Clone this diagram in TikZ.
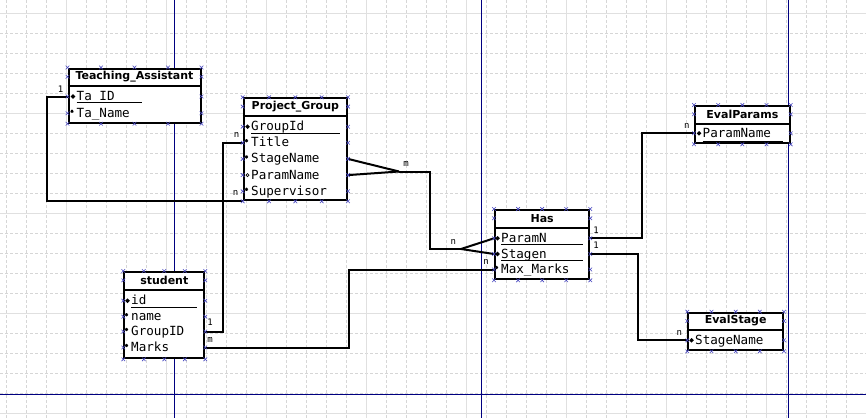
\documentclass[tikz,border=0pt]{standalone}
\usepackage{fontspec}
\setsansfont{DejaVu Sans}
\setmonofont{DejaVu Sans Mono}
\usetikzlibrary{calc}
\definecolor{gridsolid}{HTML}{E0E0E0}
\definecolor{griddash}{HTML}{D6D6D6}
\definecolor{pageblue}{HTML}{000080}
\definecolor{handleblue}{HTML}{4848C0}
\newcommand{\attrfont}{\ttfamily\fontsize{12.6}{14}\selectfont}
\newcommand{\titlefont}{\sffamily\bfseries\fontsize{11}{13}\selectfont}
\newcommand{\cardfont}{\ttfamily\fontsize{9}{10}\selectfont}
\tikzset{
  keymark/.pic={\fill (0,-2.3) -- (2.3,0) -- (0,2.3) -- (-2.3,0) -- cycle;},
  optmark/.pic={\draw[line width=0.6pt] (-1.6,0) -- (1.6,0) (0,-1.6) -- (0,1.6)
                (-1.1,-1.1) -- (1.1,1.1) (-1.1,1.1) -- (1.1,-1.1);},
  nullmark/.pic={\draw[line width=0.7pt] (0,0) circle (1.6);},
  hmark/.pic={\draw[handleblue, line width=0.6pt] (-1.8,-1.8) -- (1.8,1.8) (-1.8,1.8) -- (1.8,-1.8);}
}
\begin{document}
\begin{tikzpicture}[x=1pt, y=-1pt,
  tbox/.style={draw, line width=2pt, anchor=north west, inner sep=0pt, fill=white},
  ttl/.style={font=\titlefont, inner sep=0pt, anchor=north, minimum height=18.2pt},
  attr/.style={font=\attrfont, anchor=west, inner sep=0pt, text height=10pt, text depth=2pt},
  card/.style={font=\cardfont, inner sep=0pt},
  sepline/.style={line width=2pt},
  uline/.style={line width=0.8pt},
  conn/.style={line width=2pt},
  pageline/.style={pageblue, line width=1pt}
]
% background and grid
\useasboundingbox (0,0) rectangle (866,418);
\fill[white] (0,0) rectangle (866,418);
\foreach \gx in {6.7,26.7,...,866} \draw[griddash, dash pattern=on 2.5pt off 2.5pt, line width=0.5pt] (\gx,0) -- (\gx,418);
\foreach \gy in {13.3,33.3,...,418} \draw[griddash, dash pattern=on 2.5pt off 2.5pt, line width=0.5pt] (0,\gy) -- (866,\gy);
\foreach \gx in {66.7,166.7,...,866} \draw[gridsolid, line width=0.8pt] (\gx,0) -- (\gx,418);
\foreach \gy in {13.3,113.3,...,418} \draw[gridsolid, line width=0.8pt] (0,\gy) -- (866,\gy);
\foreach \gx in {174,481,788} \draw[pageline] (\gx,0) -- (\gx,418);
\draw[pageline] (0,394) -- (866,394);

% tables
\node[tbox, minimum width=132pt, minimum height=54.2pt] (ta) at (67.5,67.5) {};
\node[ttl, minimum width=132pt] (taT) at (ta.north) {Teaching\_Assistant};
\node[attr] (taID) at (76.5,96.5) {Ta\_ID};
\node[attr] (taName) at (76.5,113.3) {Ta\_Name};

\node[tbox, minimum width=103.3pt, minimum height=102pt] (pg) at (242.7,97.3) {};
\node[ttl, minimum width=103.3pt] (pgT) at (pg.north) {Project\_Group};
\node[attr] (pgGroupId) at (251,126.7) {GroupId};
\node[attr] (pgTitle) at (251,142.7) {Title};
\node[attr] (pgStage) at (251,158.9) {StageName};
\node[attr] (pgParam) at (251,175.1) {ParamName};
\node[attr] (pgSup) at (251,191.3) {Supervisor};

\node[tbox, minimum width=94.3pt, minimum height=69.3pt] (has) at (494,209) {};
\node[ttl, minimum width=94.3pt] (hasT) at (has.north) {Has};
\node[attr] (hasParamN) at (501,238.3) {ParamN};
\node[attr] (hasStagen) at (501,254) {Stagen};
\node[attr] (hasMax) at (501,269.5) {Max\_Marks};

\node[tbox, minimum width=80pt, minimum height=86.3pt] (st) at (123.3,271) {};
\node[ttl, minimum width=80pt] (stT) at (st.north) {student};
\node[attr] (stId) at (131,300.7) {id};
\node[attr] (stName) at (131,316.7) {name};
\node[attr] (stGroupID) at (131,331.5) {GroupID};
\node[attr] (stMarks) at (131,347.5) {Marks};

\node[tbox, minimum width=94.7pt, minimum height=37.3pt] (ep) at (694,105) {};
\node[ttl, minimum width=94.7pt] (epT) at (ep.north) {EvalParams};
\node[attr] (epName) at (702.5,133.3) {ParamName};

\node[tbox, minimum width=94.7pt, minimum height=37.6pt] (es) at (687.3,311.7) {};
\node[ttl, minimum width=94.7pt] (esT) at (es.north) {EvalStage};
\node[attr] (esName) at (695,340.3) {StageName};

% title separators
\foreach \t/\b in {taT/ta, pgT/pg, hasT/has, stT/st, epT/ep, esT/es}
  \draw[sepline] (\t.south -| \b.west) -- (\t.south -| \b.east);

% key underlines
\draw[uline] ($(taID.west)+(0,6.3)$) -- ++(65,0);
\draw[uline] ($(pgGroupId.west)+(0,7)$) -- ++(89,0);
\draw[uline] ($(hasParamN.west)+(0,6.5)$) -- ++(82,0);
\draw[uline] ($(hasStagen.west)+(0,6.5)$) -- ++(82,0);
\draw[uline] ($(stId.west)+(0,7)$) -- ++(65.5,0);
\draw[uline] ($(epName.west)+(0,8)$) -- ++(80,0);

% row markers
\foreach \r in {taID, pgGroupId, hasParamN, hasStagen, stId, epName, esName}
  \pic at ($(\r.west)+(-3.5,0)$) {keymark};
\foreach \r in {taName, pgTitle, pgStage, pgSup, hasMax, stName, stGroupID, stMarks}
  \pic at ($(\r.west)+(-4.5,-2)$) {optmark};
\pic at ($(pgParam.west)+(-3.5,0)$) {nullmark};

% connectors
\coordinate (j1) at (223,0);
\coordinate (j2) at (349,0);
\coordinate (j3) at (430,0);
\coordinate (j4) at (642,0);
\coordinate (j5) at (638,0);
\coordinate (m1) at (399,171.5);
\coordinate (n1) at (461,249);
\draw[conn] (ta.west |- taID) -- ++(-20.5,0) |- (pg.south west);
\draw[conn] (st.east |- stGroupID) -| (j1 |- pgTitle) -- (pg.west |- pgTitle);
\draw[conn] (st.east |- stMarks) -| (j2 |- hasMax) -- (has.west |- hasMax);
\draw[conn] (pg.east |- pgStage) -- (m1);
\draw[conn] (pg.east |- pgParam) -- (m1);
\draw[conn] (m1) -| (j3 |- n1) -- (n1);
\draw[conn] (n1) -- (has.west |- hasParamN);
\draw[conn] (n1) -- (has.west |- hasStagen);
\draw[conn] (has.east |- hasParamN) -| (j4 |- epName) -- (ep.west |- epName);
\draw[conn] (has.east |- hasStagen) -| (j5 |- esName) -- (es.west |- esName);

% cardinalities
\node[card] (cTA) at (60.7,89.3) {1};
\node[card] (cPGt) at (236.5,135) {n};
\node[card] (cPGs) at (235.5,192.7) {n};
\node[card] (cStG) at (210,322.7) {1};
\node[card] (cStM) at (210,340) {m};
\node[card] (cHasM) at (486,261.7) {n};
\node[card] (cHasP) at (596,230) {1};
\node[card] (cHasS) at (596,245) {1};
\node[card] (cEP) at (686.7,125.7) {n};
\node[card] (cES) at (679.3,333.3) {n};
\node[card] (cM) at (406,164.3) {m};
\node[card] (cN) at (453.3,242.3) {n};

% selection handles
\foreach \b/\rows in {ta/{taT,taID,taName}, pg/{pgT,pgGroupId,pgTitle,pgStage,pgParam,pgSup},
    has/{hasT,hasParamN,hasStagen,hasMax}, st/{stT,stId,stName,stGroupID,stMarks},
    ep/{epT,epName}, es/{esT,esName}} {
  \foreach \f in {0,0.25,0.5,0.75,1} {
    \pic at ($(\b.north west)!\f!(\b.north east)$) {hmark};
    \pic at ($(\b.south west)!\f!(\b.south east)$) {hmark};
  }
  \foreach \r in \rows {
    \pic at (\b.west |- \r) {hmark};
    \pic at (\b.east |- \r) {hmark};
  }
}
\end{tikzpicture}
\end{document}
